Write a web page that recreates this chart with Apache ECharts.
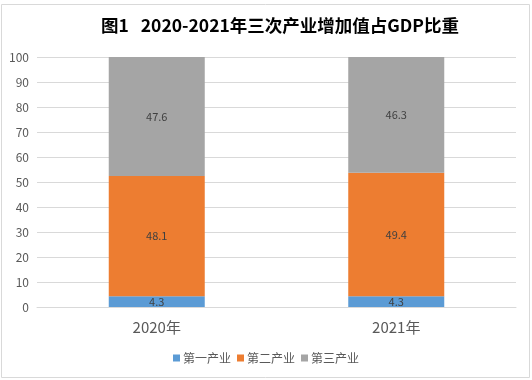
<!DOCTYPE html>
<html>
<head>
<meta charset="utf-8">
<script src="https://cdn.jsdelivr.net/npm/echarts@6/dist/echarts.min.js"></script>
<style>
html,body{margin:0;padding:0;background:#fff;}
#c{width:532px;height:380px;}
</style>
</head>
<body>
<div id="c"></div>
<script>
const categories = ['2020年', '2021年'];
const seriesNames = ['第一产业', '第二产业', '第三产业'];
const primary = [4.3, 4.3];
const secondary = [48.1, 49.4];
const tertiary = [47.6, 46.3];
const colors = ['#5B9BD5', '#ED7D31', '#A5A5A5'];
const titleText = '图1   2020-2021年三次产业增加值占GDP比重';

const font = '"Microsoft YaHei", "Noto Sans CJK SC", sans-serif';
const chart = echarts.init(document.getElementById('c'), null, {renderer: 'canvas'});
const dataArr = [primary, secondary, tertiary];
chart.setOption({
  animation: false,
  color: colors,
  graphic: [{
    type: 'rect',
    shape: {x: 1.5, y: 4.5, width: 528, height: 373},
    style: {fill: 'none', stroke: '#d9d9d9', lineWidth: 1},
    silent: true
  }],
  title: {
    text: titleText,
    left: 96,
    top: 12,
    textStyle: {fontSize: 17.5, fontWeight: 'bold', color: '#000', fontFamily: font}
  },
  legend: {
    bottom: 11,
    left: 'center',
    itemWidth: 7,
    itemHeight: 7,
    itemGap: 6,
    icon: 'rect',
    textStyle: {fontSize: 12, color: '#595959', fontFamily: font, padding: [0, 0, 0, -2]},
    data: seriesNames
  },
  grid: {left: 37, right: 16, top: 57, bottom: 73, containLabel: false},
  xAxis: {
    type: 'category',
    data: categories,
    axisLine: {show: true, lineStyle: {color: '#d9d9d9'}},
    axisTick: {show: false},
    axisLabel: {fontSize: 15, color: '#595959', margin: 13, fontFamily: font}
  },
  yAxis: {
    type: 'value',
    min: 0, max: 100, interval: 10,
    axisLine: {show: false},
    axisTick: {show: false},
    splitLine: {lineStyle: {color: '#d9d9d9'}},
    axisLabel: {fontSize: 12, color: '#595959', margin: 8, fontFamily: font}
  },
  series: seriesNames.map((n, i) => ({
    name: n,
    type: 'bar',
    stack: 'total',
    barWidth: 96,
    data: dataArr[i],
    label: {show: true, position: 'inside', fontSize: 11, color: '#404040', fontFamily: font,
      formatter: p => p.value.toFixed(1)}
  }))
});
</script>
</body>
</html>
